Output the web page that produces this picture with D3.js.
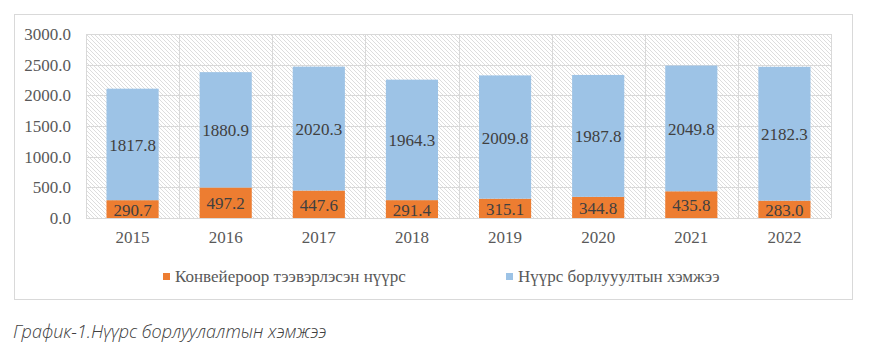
<!DOCTYPE html>
<html><head><meta charset="utf-8">
<script src="https://cdn.jsdelivr.net/npm/d3@7"></script>
<style>body{margin:0;background:#fff;}svg{display:block;}
.serif{font-family:"Liberation Serif","Times New Roman","DejaVu Serif",serif;}
.cap{font-family:"Open Sans",sans-serif;font-style:italic;font-weight:300;}
</style>
</head><body>
<svg id="c" width="885" height="357"></svg>
<script>
const years = ["2015","2016","2017","2018","2019","2020","2021","2022"];
const conveyor = [290.7,497.2,447.6,291.4,315.1,344.8,435.8,283.0];
const sales = [1817.8,1880.9,2020.3,1964.3,2009.8,1987.8,2049.8,2182.3];
const yTicks = [0,500,1000,1500,2000,2500,3000];
const seriesNames = ["Конвейероор тээвэрлэсэн нүүрс","Нүүрс борлууултын хэмжээ"];
const colors = ["#ed7d31","#9dc3e6"];
const caption = "График-1.Нүүрс борлуулалтын хэмжээ";

const svg = d3.select("#c");
const m = {l:86,t:34,r:831,b:218};
const defs = svg.append("defs");
const pat = defs.append("pattern").attr("id","hatch").attr("patternUnits","userSpaceOnUse")
  .attr("width",4).attr("height",4);
pat.append("rect").attr("width",4).attr("height",4).attr("fill","#fff");
pat.append("path").attr("d","M-1,-1 L5,5 M-1,3 L1,5 M3,-1 L5,1").attr("stroke","#d4d4d4").attr("stroke-width",0.8);

svg.append("rect").attr("x",14.5).attr("y",14.5).attr("width",838).attr("height",285)
  .attr("fill","#fff").attr("stroke","#d9d9d9");

const x = d3.scaleBand().domain(years).range([m.l,m.r]).paddingInner(0.44).paddingOuter(0.22);
const xb = d3.scaleBand().domain(years).range([m.l,m.r]);
const y = d3.scaleLinear().domain([0,3000]).range([m.b,m.t]);

svg.append("rect").attr("x",m.l).attr("y",m.t).attr("width",m.r-m.l).attr("height",m.b-m.t).attr("fill","url(#hatch)");

const g = svg.append("g");
g.selectAll(".h").data(yTicks).join("line")
  .attr("x1",m.l).attr("x2",m.r).attr("y1",d=>Math.round(y(d))+0.5).attr("y2",d=>Math.round(y(d))+0.5)
  .attr("stroke","#d9d9d9");
const vb = years.map(d=>xb(d)).concat([m.r]);
g.selectAll(".v").data(vb).join("line")
  .attr("x1",d=>Math.round(d)+0.5).attr("x2",d=>Math.round(d)+0.5).attr("y1",m.t).attr("y2",m.b)
  .attr("stroke","#d9d9d9");

const yAxis = d3.axisLeft(y).tickValues(yTicks).tickFormat(d=>d3.format(".1f")(d)).tickSize(0).tickPadding(15);
const ya = svg.append("g").attr("transform",`translate(${m.l},0)`).call(yAxis);
ya.select(".domain").remove();
ya.attr("font-family",null).attr("font-size",null);
ya.selectAll("text").attr("class","serif").style("font-size","17px").attr("fill","#595959");

const xAxis = d3.axisBottom(xb).tickSize(0).tickPadding(13);
const xa = svg.append("g").attr("transform",`translate(0,${m.b})`).call(xAxis);
xa.select(".domain").remove();
xa.attr("font-family",null).attr("font-size",null);
xa.selectAll("text").attr("class","serif").style("font-size","17px").attr("fill","#595959");

const data = years.map((yr,i)=>({yr, a:conveyor[i], b:sales[i]}));
const stack = d3.stack().keys(["a","b"])(data);
stack.forEach((s,si)=>{
  svg.append("g").selectAll("rect").data(s).join("rect")
    .attr("x",d=>x(d.data.yr)).attr("width",x.bandwidth())
    .attr("y",d=>y(d[1])).attr("height",d=>y(d[0])-y(d[1]))
    .attr("fill",colors[si]);
  svg.append("g").selectAll("text").data(s).join("text")
    .attr("class","serif")
    .attr("x",d=>x(d.data.yr)+x.bandwidth()/2)
    .attr("y",d=>(y(d[0])+y(d[1]))/2)
    .attr("dy","0.38em").attr("text-anchor","middle")
    .style("font-size","17px").attr("fill","#404040")
    .text(d=>d3.format(".1f")(d[1]-d[0]));
});

const lg = svg.append("g");
const lx = [163,506];
seriesNames.forEach((n,i)=>{
  lg.append("rect").attr("x",lx[i]).attr("y",273).attr("width",7).attr("height",7).attr("fill",colors[i]);
  lg.append("text").attr("class","serif").attr("x",lx[i]+12).attr("y",282)
    .style("font-size","17px").attr("fill","#595959").text(n);
});

svg.append("text").attr("class","cap").attr("x",13).attr("y",338)
  .style("font-size","18px").attr("fill","#404040").text(caption);
</script>
</body></html>
